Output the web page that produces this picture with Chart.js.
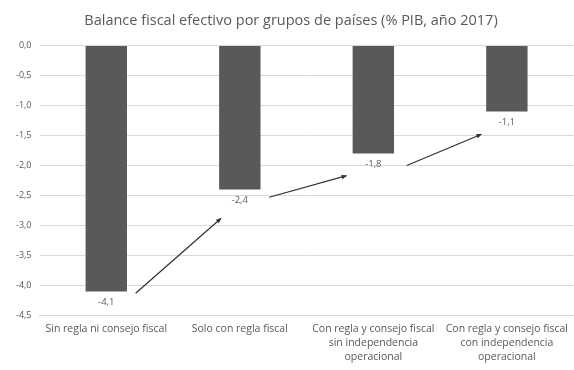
<!DOCTYPE html>
<html>
<head>
<meta charset="utf-8">
<script src="https://cdn.jsdelivr.net/npm/chart.js@4/dist/chart.umd.min.js"></script>
<style>
  html, body { margin: 0; padding: 0; background: #ffffff; }
</style>
</head>
<body>
<canvas id="balance" width="574" height="370"></canvas>
<script>
// datos
const categorias = [
  ["Sin regla ni consejo fiscal"],
  ["Solo con regla fiscal"],
  ["Con regla y consejo fiscal", "sin independencia", "operacional"],
  ["Con regla y consejo fiscal", "con independencia", "operacional"]
];
const balance = [-4.1, -2.4, -1.8, -1.1];
const titulo = "Balance fiscal efectivo por grupos de países (% PIB, año 2017)";
// flechas (en unidades del gráfico: índice de categoría, valor)
const flechasDesde = [[0.22, -4.13], [1.22, -2.53], [2.25, -2.0]];
const flechasHasta = [[0.86, -2.88], [1.8, -2.17], [2.81, -1.48]];

function coma(v) {
  return v.toFixed(1).replace(".", ",");
}

// etiquetas bajo cada barra + flechas entre grupos
const etiquetasYFlechas = {
  id: "etiquetasYFlechas",
  afterDatasetsDraw(chart) {
    const c = chart.ctx;
    const x = chart.scales.x;
    const y = chart.scales.y;
    const meta = chart.getDatasetMeta(0);
    c.save();
    c.font = "9.5px 'Open Sans', sans-serif";
    c.fillStyle = "#595959";
    c.textAlign = "center";
    c.textBaseline = "top";
    meta.data.forEach((bar, i) => {
      c.fillText(coma(balance[i]), bar.x, bar.y + 6);
    });
    // flechas
    const px = (v) => {
      const base = Math.floor(v);
      const paso = x.getPixelForValue(1) - x.getPixelForValue(0);
      return x.getPixelForValue(base) + (v - base) * paso;
    };
    c.strokeStyle = "#303030";
    c.fillStyle = "#303030";
    c.lineWidth = 1.2;
    for (let i = 0; i < flechasDesde.length; i++) {
      const x1 = px(flechasDesde[i][0]);
      const y1 = y.getPixelForValue(flechasDesde[i][1]);
      const x2 = px(flechasHasta[i][0]);
      const y2 = y.getPixelForValue(flechasHasta[i][1]);
      c.beginPath();
      c.moveTo(x1, y1);
      c.lineTo(x2, y2);
      c.stroke();
      const ang = Math.atan2(y2 - y1, x2 - x1);
      c.beginPath();
      c.moveTo(x2, y2);
      c.lineTo(x2 - 5.5 * Math.cos(ang - 0.45), y2 - 5.5 * Math.sin(ang - 0.45));
      c.lineTo(x2 - 5.5 * Math.cos(ang + 0.45), y2 - 5.5 * Math.sin(ang + 0.45));
      c.closePath();
      c.fill();
    }
    c.restore();
  }
};

const ctxBalance = document.getElementById("balance");
new Chart(ctxBalance, {
  type: "bar",
  data: {
    labels: categorias,
    datasets: [
      {
        label: "Balance",
        data: balance,
        backgroundColor: "#595959",
        borderWidth: 0,
        categoryPercentage: 1,
        barPercentage: 0.31
      }
    ]
  },
  options: {
    responsive: false,
    animation: false,
    layout: { padding: { left: 8, right: 0, top: 4, bottom: 0 } },
    plugins: {
      legend: { display: false },
      tooltip: { enabled: false },
      title: {
        display: true,
        text: titulo,
        color: "#595959",
        font: { family: "'Open Sans', sans-serif", size: 14.5, weight: "normal" },
        padding: { top: 8, bottom: 16 }
      }
    },
    scales: {
      y: {
        min: -4.5,
        max: 0,
        ticks: {
          stepSize: 0.5,
          autoSkip: false,
          color: "#595959",
          font: { family: "'Open Sans', sans-serif", size: 9 },
          padding: 8,
          callback: (v) => coma(v)
        },
        grid: { color: "#d9d9d9", drawTicks: false },
        border: { display: false }
      },
      x: {
        ticks: {
          color: "#595959",
          font: { family: "'Open Sans', sans-serif", size: 10.5, lineHeight: 1.35 },
          maxRotation: 0,
          autoSkip: false,
          padding: 6
        },
        grid: { display: false, drawTicks: false },
        border: { color: "#d9d9d9" }
      }
    }
  },
  plugins: [etiquetasYFlechas]
});
</script>
</body>
</html>
